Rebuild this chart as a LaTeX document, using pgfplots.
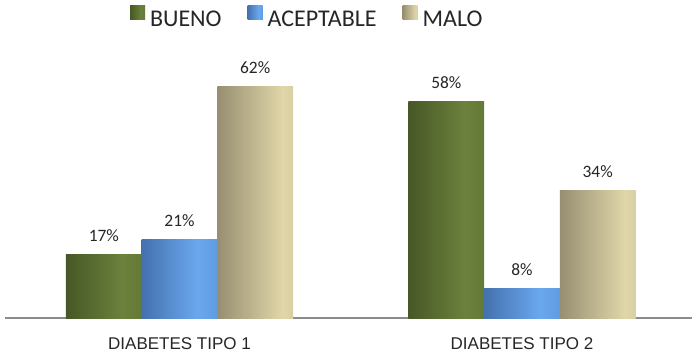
\documentclass[border=0pt]{standalone}
\usepackage{pgfplots}
\pgfplotsset{compat=1.18}
\usepackage{fontspec}
\setmainfont{Carlito}
\newfontfamily\catfont{Liberation Sans}

% bar colours: dark edge, highlight, right edge
\definecolor{gA}{HTML}{2F3B17}
\definecolor{gB}{HTML}{6B813C}
\definecolor{gC}{HTML}{556A2C}
\definecolor{bA}{HTML}{2B4C84}
\definecolor{bB}{HTML}{6AA8EE}
\definecolor{bC}{HTML}{4A82C6}
\definecolor{tA}{HTML}{6C6550}
\definecolor{tB}{HTML}{E0D6A9}
\definecolor{tC}{HTML}{BDB592}
% flat legend colours
\definecolor{legG}{HTML}{4F6228}
\definecolor{legB}{HTML}{5590DA}
\definecolor{legT}{HTML}{C4BD97}
\definecolor{txt}{HTML}{262626}
\definecolor{axln}{HTML}{8C8C8C}

\pgfdeclarehorizontalshading{buenoshade}{100bp}{color(0bp)=(gA); color(62bp)=(gB); color(100bp)=(gC)}
\pgfdeclarehorizontalshading{aceptshade}{100bp}{color(0bp)=(bA); color(62bp)=(bB); color(100bp)=(bC)}
\pgfdeclarehorizontalshading{maloshade}{100bp}{color(0bp)=(tA); color(68bp)=(tB); color(100bp)=(tC)}

% one plot per bar, so that every bar gets its own shading
\pgfplotsset{
  bueno/.style={bar shift=-0.221, draw=none, shading=buenoshade,
    legend image code/.code={\fill[legG] (0pt,0pt) rectangle (15pt,14pt);}},
  acept/.style={bar shift=0, draw=none, shading=aceptshade,
    legend image code/.code={\fill[legB] (0pt,0pt) rectangle (15pt,14pt);}},
  malo/.style={bar shift=0.221, draw=none, shading=maloshade,
    legend image code/.code={\fill[legT] (0pt,0pt) rectangle (15pt,14pt);}},
}

\begin{document}
\begin{tikzpicture}
\begin{axis}[
  scale only axis,
  width=687pt, height=288pt,
  xmin=-0.5095, xmax=1.4964,
  ymin=0, ymax=77,
  ybar=0pt, bar width=0.221,
  axis x line*=bottom,
  axis y line=none,
  x axis line style={-, draw=axln, line width=1.6pt},
  xtick={0,1},
  xticklabels={DIABETES TIPO 1, DIABETES TIPO 2},
  major tick length=0pt,
  ytick=\empty,
  xticklabel style={font=\catfont\fontsize{17}{20}\selectfont, text=txt, inner sep=0pt, yshift=-19pt},
  /pgf/number format/assume math mode=true,
  nodes near coords={\pgfmathprintnumber{\pgfplotspointmeta}\%},
  every node near coord/.append style={font=\fontsize{17.4}{20}\selectfont, text=txt, anchor=south, inner sep=0pt, yshift=12.7pt},
  legend columns=3,
  legend style={at={(0.182,1.045)}, anchor=west, draw=none, fill=none, inner sep=0pt, outer sep=0pt,
    font=\fontsize{24}{28}\selectfont, text=txt,
    nodes={inner sep=0pt},
    /tikz/every odd column/.append style={column sep=5pt},
    /tikz/every even column/.append style={column sep=26pt}},
  clip=false,
]
% DIABETES TIPO 1
\addplot[bueno] coordinates {(0,17)};
\addlegendentry{BUENO}
\addplot[acept] coordinates {(0,21)};
\addlegendentry{ACEPTABLE}
\addplot[malo] coordinates {(0,62)};
\addlegendentry{MALO}
% DIABETES TIPO 2
\addplot[bueno, forget plot] coordinates {(1,58)};
\addplot[acept, forget plot] coordinates {(1,8)};
\addplot[malo, forget plot] coordinates {(1,34)};
\end{axis}
\pgfresetboundingbox
\path (-5pt,-36pt) rectangle (692pt,318pt);
\end{tikzpicture}
\end{document}
